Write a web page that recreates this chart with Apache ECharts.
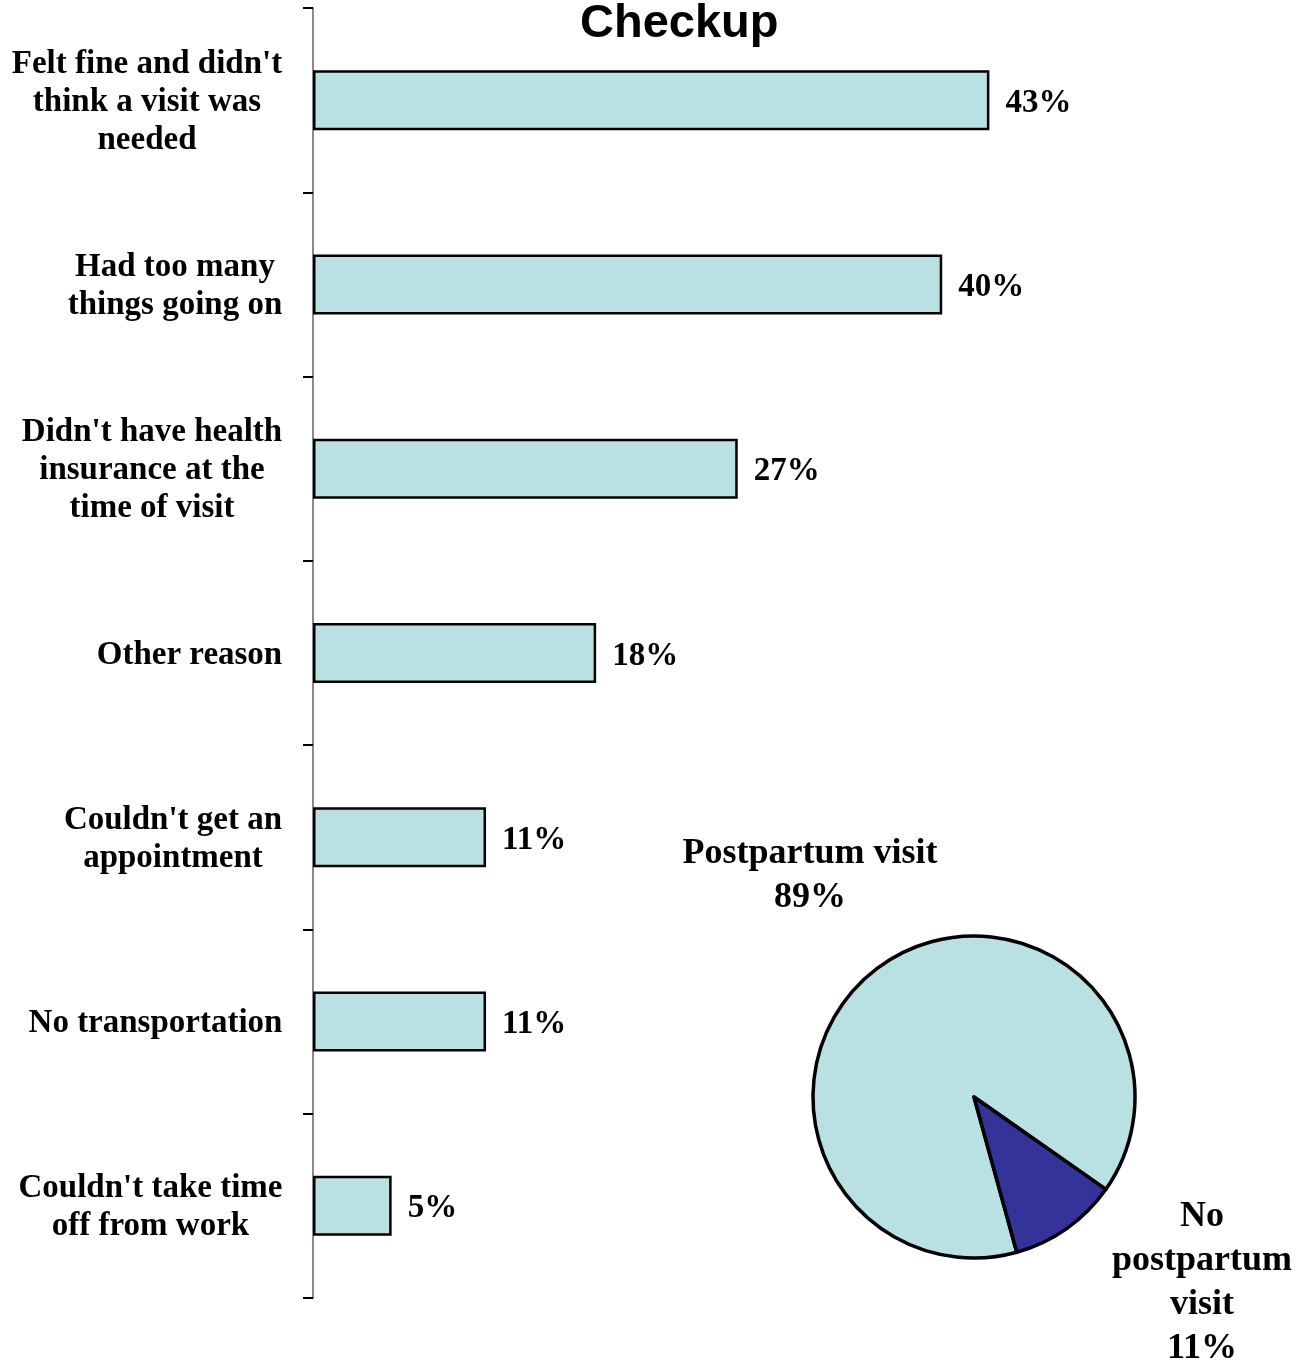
<!DOCTYPE html>
<html>
<head>
    <meta http-equiv="Content-Type" content="text/html; charset=utf-8" />
    <title>Checkup</title>
    <script src="https://cdn.jsdelivr.net/npm/echarts@6/dist/echarts.min.js"></script>
</head>
<body style="margin:0;padding:0;background:#ffffff;">
    <div id="main" style="width:1309px;height:1362px;"></div>
    <script type="text/javascript">
        // data
        var categories = [
            "Felt fine and didn't\nthink a visit was\nneeded",
            "Had too many\nthings going on",
            "Didn't have health\ninsurance at the\ntime of visit",
            "Other reason",
            "Couldn't get an\nappointment",
            "No transportation",
            "Couldn't take time\noff from work"
        ];
        var barValues = [43, 40, 27, 18, 11, 11, 5];
        var pieNames = ['Postpartum visit', 'No\npostpartum\nvisit'];
        var pieValues = [89, 11];

        var serif = '"Liberation Serif", "Times New Roman", serif';
        var catFont = 33;

        // measure lines so each label block is right aligned but lines centered
        var ctx = document.createElement('canvas').getContext('2d');
        ctx.font = 'bold ' + catFont + 'px ' + serif;
        var catRich = {};
        categories.forEach(function (c, i) {
            var w = 0;
            c.split('\n').forEach(function (l) { w = Math.max(w, ctx.measureText(l).width); });
            catRich['c' + i] = {
                width: Math.ceil(w) + 1, align: 'center',
                fontFamily: serif, fontWeight: 'bold', fontSize: catFont, lineHeight: 38, color: '#000'
            };
        });

        var chart = echarts.init(document.getElementById('main'));
        var option = {
            backgroundColor: '#ffffff',
            animation: false,
            title: {
                text: 'Checkup',
                left: 575,
                top: -4,
                textStyle: {
                    fontFamily: '"Liberation Sans", Arial, sans-serif',
                    fontWeight: 'bold',
                    fontSize: 47,
                    lineHeight: 47,
                    color: '#000'
                }
            },
            grid: {
                left: 313,
                top: 8,
                bottom: 64,
                right: 209.5,
                containLabel: false
            },
            xAxis: {
                type: 'value',
                min: 0,
                max: 50,
                show: false
            },
            yAxis: {
                type: 'category',
                inverse: true,
                data: categories,
                axisLine: { show: true, lineStyle: { color: '#8a8a8a', width: 2 } },
                axisTick: { show: true, length: 10, lineStyle: { color: '#000', width: 2 } },
                splitLine: { show: false },
                axisLabel: {
                    margin: 30,
                    align: 'right',
                    padding: [4, 0, 0, 0],
                    formatter: function (val, idx) {
                        return val.split('\n').map(function (l) { return '{c' + idx + '|' + l + '}'; }).join('\n');
                    },
                    rich: catRich
                }
            },
            series: [
                {
                    type: 'bar',
                    data: barValues,
                    barWidth: 60,
                    itemStyle: { color: '#b9e0e2', borderColor: '#000', borderWidth: 2.5 },
                    label: {
                        show: true,
                        position: 'right',
                        distance: 16,
                        offset: [0, 3],
                        formatter: '{c}%',
                        fontFamily: serif,
                        fontWeight: 'bold',
                        fontSize: catFont,
                        color: '#000'
                    }
                },
                {
                    type: 'pie',
                    center: [974, 1097],
                    radius: 161,
                    startAngle: 285.4,
                    clockwise: true,
                    data: pieNames.map(function (n, i) {
                        return {
                            name: n,
                            value: pieValues[i],
                            itemStyle: { color: i === 0 ? '#b9e0e2' : '#333399' }
                        };
                    }),
                    itemStyle: { borderColor: '#000', borderWidth: 3.5 },
                    emphasis: { disabled: true },
                    labelLine: { show: false },
                    label: {
                        show: true,
                        formatter: '{b}\n{c}%',
                        fontFamily: serif,
                        fontWeight: 'bold',
                        fontSize: 36,
                        lineHeight: 44,
                        align: 'center',
                        color: '#000'
                    },
                    labelLayout: function (params) {
                        if (params.dataIndex === 0) {
                            return { x: 810, y: 876, align: 'center', verticalAlign: 'middle' };
                        }
                        return { x: 1202, y: 1283, align: 'center', verticalAlign: 'middle' };
                    }
                }
            ]
        };
        chart.setOption(option);
    </script>
</body>
</html>
